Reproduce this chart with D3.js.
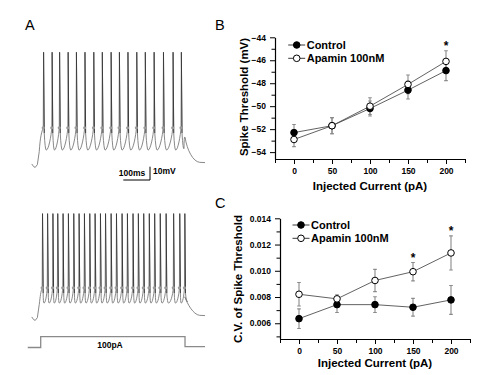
<!DOCTYPE html>
<html><head><meta charset="utf-8">
<script src="https://cdn.jsdelivr.net/npm/d3@7"></script>
<style>body{margin:0;background:#fff}svg{display:block}text{font-family:"Liberation Sans",Arial,sans-serif}</style>
</head><body>
<svg id="c" width="500" height="375"></svg>
<script>
// ---------- data ----------
const currents = [0, 50, 100, 150, 200];
const thrControl = [-52.3, -51.7, -50.2, -48.6, -46.9];
const thrControlErr = [0.7, 0.7, 0.65, 0.78, 0.87];
const thrApamin = [-52.9, -51.7, -50.0, -48.1, -46.1];
const thrApaminErr = [0.62, 0.7, 0.73, 0.81, 0.93];
const cvControl = [0.00635, 0.00742, 0.00742, 0.00722, 0.00778];
const cvControlErr = [0.00075, 0.0006, 0.0006, 0.00068, 0.0011];
const cvApamin = [0.00821, 0.00786, 0.00926, 0.00993, 0.01136];
const cvApaminErr = [0.0009, 0.0003, 0.00085, 0.0007, 0.0013];
const starsB = [200];
const starsC = [150, 200];
const seriesNames = ["Control", "Apamin 100nM"];
const thrTicks = [-54, -52, -50, -48, -46, -44];
const cvTicks = [0.006, 0.008, 0.010, 0.012, 0.014];
const currentTicks = [0, 50, 100, 150, 200];
// spike times (ms from step onset)
const spikesTop = [14, 46, 74, 106, 137, 169, 202, 234, 267, 298, 330, 363, 395, 428, 463, 499, 530];
const spikesBottom = [10, 29, 49, 67, 87, 107, 127, 147, 167, 187, 207, 227, 246, 267, 287, 308, 328, 349, 369, 389, 410, 430, 451, 473, 501, 524, 543];
// voltage levels (mV): rest, threshold, peak, trough
const levelsTop = [-70, -42, 14.8, -58.8];
const levelsBottom = [-70, -47.3, 8.5, -58.8];
const stepWindow = [0, 545];   // ms
const stepLabel = "100pA";

const svg = d3.select("#c");
const F = '"Liberation Sans",Arial,sans-serif';

// ---------- panel A ----------
const xT = d3.scaleLinear().domain([0, 100]).range([39.5, 66.2]);
const yTop = d3.scaleLinear().domain([-70, -60]).range([165, 151.7]);
const yBot = d3.scaleLinear().domain([-70, -60]).range([318, 304.7]);

function trace(spikes, lv, y) {
  const [rest, thr, peak, trough] = lv;
  const p = d3.path();
  p.moveTo(xT(-29), y(rest + 0.8));
  p.lineTo(xT(-22), y(rest - 1.2));
  p.lineTo(xT(-16), y(rest - 1.8));
  p.lineTo(xT(-8), y(rest + 0.3));
  p.lineTo(xT(-1), y(rest + 10));
  let x0 = xT(spikes[0]);
  p.bezierCurveTo(xT(3), y(thr - 6), x0 - 1.5, y(thr - 3), x0, y(thr));
  spikes.forEach((t, i) => {
    const x = xT(t);
    p.lineTo(x + 0.35, y(peak));
    p.lineTo(x + 1.0, y(thr - 4));
    if (i < spikes.length - 1) {
      const xn = xT(spikes[i + 1]), d = xn - x;
      p.quadraticCurveTo(x + 0.22 * d, y(trough), x + 0.36 * d, y(trough));
      p.bezierCurveTo(x + 0.62 * d, y(trough), xn - 0.5, y(thr - 6), xn, y(thr));
    } else {
      const xe = xT(stepWindow[1]);
      p.quadraticCurveTo(x + 2, y(trough), x + 3, y(trough + 1));
      p.quadraticCurveTo(xe - 1, y(thr - 6), xe, y(thr - 7));
      p.bezierCurveTo(xe + 2, y(trough), xT(575), y(rest + 2.5), xT(600), y(rest + 2));
      p.lineTo(xT(620), y(rest + 1.8));
    }
  });
  return p.toString();
}

function drawTrace(spikes, lv, y) {
  svg.append("path").attr("d", trace(spikes, lv, y))
    .attr("fill", "none").attr("stroke", "#7a7a7a").attr("stroke-width", 0.9);
  // darker repolarising strokes of each spike
  svg.append("g").selectAll("path").data(spikes).join("path")
    .attr("d", d => `M${xT(d) + 0.35},${y(lv[2])}L${xT(d) + 1.0},${y(lv[1] - 4)}`)
    .attr("stroke", "#2a2a2a").attr("stroke-width", 0.8);
  svg.append("g").selectAll("circle").data(spikes).join("circle")
    .attr("cx", d => xT(d)).attr("cy", y(lv[1])).attr("r", 1.6)
    .attr("fill", "#9a9a9a");
}
drawTrace(spikesTop, levelsTop, yTop);
drawTrace(spikesBottom, levelsBottom, yBot);

// scale bar
const sbX = 150, sbY = 180;
svg.append("path")
  .attr("d", `M${sbX - (xT(100) - xT(0))},${sbY}H${sbX}V${sbY + (yTop(-60) - yTop(-70))}`)
  .attr("fill", "none").attr("stroke", "#000").attr("stroke-width", 1);
svg.append("text").attr("x", 132).attr("y", 176).attr("text-anchor", "middle")
  .attr("font-size", 8.5).attr("font-weight", "bold").text("100ms");
svg.append("text").attr("x", 153).attr("y", 174).attr("font-size", 8.5)
  .attr("font-weight", "bold").text("10mV");

// current step
const stepLow = 347.5, stepHigh = 336.7;
svg.append("path")
  .attr("d", `M${xT(-44)},${stepLow}H${xT(stepWindow[0]) + 1.2}V${stepHigh}H${xT(stepWindow[1])}V${stepLow - 0.8}H${xT(620)}`)
  .attr("fill", "none").attr("stroke", "#8a8a8a").attr("stroke-width", 1.3);
svg.append("text").attr("x", 110).attr("y", 347.5).attr("text-anchor", "middle")
  .attr("font-size", 8.5).attr("font-weight", "bold").text(stepLabel);

// panel letters
[["A", 25, 30], ["B", 215, 30], ["C", 215, 207.5]].forEach(([t, x, y]) =>
  svg.append("text").attr("x", x).attr("y", y).attr("font-size", 14.5).text(t));

// ---------- line panels ----------
function linePanel(o) {
  const g = svg.append("g");
  const x = d3.scaleLinear().domain([-25, 225]).range(o.xr);
  const y = d3.scaleLinear().domain(o.yd).range(o.yr);
  // minor ticks
  g.append("g").attr("transform", `translate(0,${o.yr[0]})`)
    .call(d3.axisBottom(x).tickValues([-25, 25, 75, 125, 175, 225]).tickSize(4).tickFormat("").tickSizeOuter(0))
    .call(a => a.select(".domain").remove());
  g.append("g").attr("transform", `translate(${o.xr[0]},0)`)
    .call(d3.axisLeft(y).tickValues(o.minor).tickSize(3.5).tickFormat("").tickSizeOuter(0))
    .call(a => a.select(".domain").remove());
  const xa = g.append("g").attr("transform", `translate(0,${o.yr[0]})`)
    .call(d3.axisBottom(x).tickValues(currentTicks).tickSize(5).tickPadding(3.5).tickSizeOuter(0));
  const ya = g.append("g").attr("transform", `translate(${o.xr[0]},0)`)
    .call(d3.axisLeft(y).tickValues(o.ticks).tickSize(5).tickPadding(4).tickFormat(o.fmt).tickSizeOuter(0));
  [xa, ya].forEach(a => {
    a.selectAll("text").attr("font-family", F).attr("font-size", 8.5).attr("font-weight", "bold").attr("fill", "#000");
    a.select(".domain").attr("stroke-width", 1.2);
  });
  g.selectAll(".tick line").attr("stroke", "#000").attr("stroke-width", 1);

  const series = [
    { v: o.c, e: o.ce, fill: "#000" },
    { v: o.a, e: o.ae, fill: "#fff" }
  ];
  const line = d3.line().x((d, i) => x(currents[i])).y(d => y(d));
  series.forEach(s => {
    g.append("path").attr("d", line(s.v)).attr("fill", "none")
      .attr("stroke", "#3a3a3a").attr("stroke-width", 0.8);
  });
  series.forEach(s => {
    const eb = g.append("g").attr("stroke", "#8a8a8a").attr("stroke-width", 1.1);
    s.v.forEach((v, i) => {
      const cx = x(currents[i]);
      const t = y(v + s.e[i]), b = y(v - s.e[i]);
      eb.append("path").attr("d", `M${cx},${t}V${b}M${cx - 1.8},${t}H${cx + 1.8}M${cx - 1.8},${b}H${cx + 1.8}`);
    });
  });
  series.forEach(s => {
    g.append("g").selectAll("circle").data(s.v).join("circle")
      .attr("cx", (d, i) => x(currents[i])).attr("cy", d => y(d)).attr("r", 3.3)
      .attr("fill", s.fill).attr("stroke", "#000").attr("stroke-width", 1);
  });
  // stars
  o.stars.forEach(c => {
    const i = currents.indexOf(c);
    const top = y(o.a[i] + o.ae[i]);
    g.append("text").attr("x", x(c)).attr("y", top - 1).attr("text-anchor", "middle")
      .attr("font-size", 12).attr("font-weight", "bold").text("*");
  });
  // legend
  series.forEach((s, k) => {
    const ly = o.leg[1] + k * 13.3;
    g.append("path").attr("d", `M${o.leg[0] - 8.5},${ly}H${o.leg[0] + 8.5}`)
      .attr("stroke", "#3a3a3a").attr("stroke-width", 1);
    g.append("circle").attr("cx", o.leg[0]).attr("cy", ly).attr("r", 3.3)
      .attr("fill", s.fill).attr("stroke", "#000").attr("stroke-width", 1);
    g.append("text").attr("x", o.leg[0] + 10).attr("y", ly + 4).attr("font-size", 11)
      .attr("font-weight", "bold").text(seriesNames[k]);
  });
  // titles
  const mx = (o.xr[0] + o.xr[1]) / 2;
  g.append("text").attr("x", mx).attr("y", o.xt).attr("text-anchor", "middle")
    .attr("font-size", 11.5).attr("font-weight", "bold").text("Injected Current (pA)");
  g.append("text").attr("transform", `translate(${o.yt[0]},${o.yt[1]}) rotate(-90)`)
    .attr("text-anchor", "middle").attr("font-size", 11.5).attr("font-weight", "bold").text(o.ytitle);
}

linePanel({
  xr: [275, 465], yd: [-54.6, -44], yr: [159, 37.3],
  ticks: thrTicks, minor: [-53, -51, -49, -47, -45], fmt: d3.format("d"),
  c: thrControl, ce: thrControlErr, a: thrApamin, ae: thrApaminErr,
  stars: starsB, leg: [296.7, 45], xt: 190, yt: [247.5, 97], ytitle: "Spike Threshold (mV)"
});
linePanel({
  xr: [280, 470], yd: [0.0048, 0.014], yr: [339, 218.3],
  ticks: cvTicks, minor: [0.005, 0.007, 0.009, 0.011, 0.013], fmt: d3.format(".3f"),
  c: cvControl, ce: cvControlErr, a: cvApamin, ae: cvApaminErr,
  stars: starsC, leg: [301, 225], xt: 367, yt: [242, 279], ytitle: "C.V. of Spike Threshold"
});
</script>
</body></html>
